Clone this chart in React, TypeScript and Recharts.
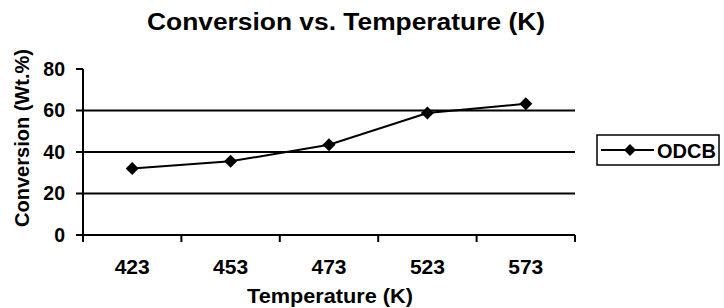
import { LineChart, Line, XAxis, YAxis, CartesianGrid } from 'recharts'

const temperatures = ['423', '453', '473', '523', '573']
const conversion = [32.1, 35.5, 43.5, 58.8, 63.2]
const yTicks = [0, 20, 40, 60, 80]
const gridValues = [20, 40, 60]

const data = temperatures.map((t, i) => ({ temp: t, ODCB: conversion[i] }))

const W = 724
const H = 308
const LEFT = 83
const RIGHT = 149
const TOP = 69
const BOTTOM = 73
const BAND = (W - LEFT - RIGHT) / temperatures.length
const FONT = 'Liberation Sans, Arial, Helvetica, sans-serif'
const TICK_SIZE = 7
const TICK_MARGIN = 17

function Diamond({ cx, cy }: any) {
  if (cx == null || cy == null) return null
  const r = 6.5
  return <polygon points={`${cx},${cy - r} ${cx + r},${cy} ${cx},${cy + r} ${cx - r},${cy}`} fill="#000" />
}

// labels sit mid-category, tick marks sit on the category boundaries
function XTick({ x, y, payload, index }: any) {
  const y0 = y - TICK_SIZE - TICK_MARGIN
  return (
    <g>
      <line x1={x - BAND / 2} y1={y0} x2={x - BAND / 2} y2={y0 + TICK_SIZE} stroke="#000" strokeWidth={2} />
      {index === temperatures.length - 1 && (
        <line x1={x + BAND / 2} y1={y0} x2={x + BAND / 2} y2={y0 + TICK_SIZE} stroke="#000" strokeWidth={2} />
      )}
      <text x={x} y={y} dy="0.71em" textAnchor="middle" fontFamily={FONT} fontWeight="bold" fontSize={21} fill="#000">
        {payload.value}
      </text>
    </g>
  )
}

export default function App() {
  return (
    <div style={{ position: 'absolute', left: 0, top: 0, width: W, height: H, background: '#fff' }}>
      <LineChart width={W} height={H} data={data} margin={{ top: TOP, right: RIGHT, bottom: 0, left: 0 }}>
        <CartesianGrid horizontal vertical={false} horizontalValues={gridValues} stroke="#000" strokeWidth={2} />
        <XAxis
          dataKey="temp"
          height={BOTTOM}
          padding={{ left: BAND / 2, right: BAND / 2 }}
          axisLine={{ stroke: '#000', strokeWidth: 2 }}
          tickLine={false}
          tickSize={TICK_SIZE}
          tickMargin={TICK_MARGIN}
          tick={<XTick />}
          interval={0}
          label={{
            content: () => (
              <text x={330} y={303} textAnchor="middle" textLength={166} lengthAdjust="spacingAndGlyphs" fontFamily={FONT} fontWeight="bold" fontSize={20.5} fill="#000">
                Temperature (K)
              </text>
            ),
          }}
        />
        <YAxis
          domain={[0, 80]}
          ticks={yTicks}
          width={LEFT}
          axisLine={{ stroke: '#000', strokeWidth: 2 }}
          tickLine={{ stroke: '#000', strokeWidth: 2 }}
          tickSize={TICK_SIZE}
          tickMargin={11}
          tick={{ fill: '#000', fontFamily: FONT, fontWeight: 'bold', fontSize: 19.5 }}
          label={{
            content: () => (
              <text x={29} y={138} transform="rotate(-90, 29, 138)" textAnchor="middle" fontFamily={FONT} fontWeight="bold" fontSize={20} fill="#000">
                Conversion (Wt.%)
              </text>
            ),
          }}
        />
        <Line dataKey="ODCB" stroke="#000" strokeWidth={2} dot={<Diamond />} activeDot={false} isAnimationActive={false} />
      </LineChart>
      {/* title and legend box drawn over the chart */}
      <svg width={W} height={H} style={{ position: 'absolute', left: 0, top: 0, pointerEvents: 'none' }}>
        <text x={346} y={30} textAnchor="middle" textLength={398} lengthAdjust="spacingAndGlyphs" fontFamily={FONT} fontWeight="bold" fontSize={23} fill="#000">
          Conversion vs. Temperature (K)
        </text>
        <rect x={597} y={135} width={122} height={30} fill="#fff" stroke="#000" strokeWidth={1.5} />
        <line x1={601} y1={150} x2={654} y2={150} stroke="#000" strokeWidth={2} />
        <polygon points="630,144 636,150 630,156 624,150" fill="#000" />
        <text x={657} y={157.5} fontFamily={FONT} fontWeight="bold" fontSize={20} fill="#000">
          ODCB
        </text>
      </svg>
    </div>
  )
}
